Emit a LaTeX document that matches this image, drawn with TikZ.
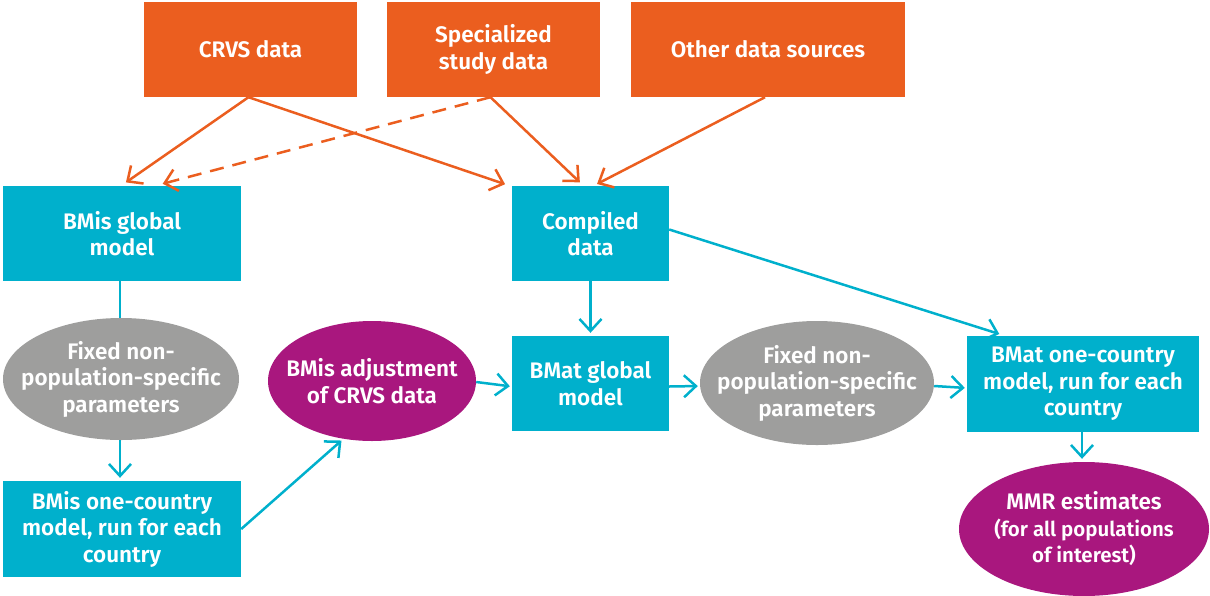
\documentclass[tikz,border=0pt]{standalone}
\usepackage{fontspec}
\setmainfont{Fira Sans}[BoldFont={Fira Sans SemiBold}]
\usetikzlibrary{shapes.geometric,arrows.meta}
\definecolor{corange}{HTML}{EB5E1F}
\definecolor{ccyan}{HTML}{00B0CC}
\definecolor{cgray}{HTML}{9E9E9D}
\definecolor{cpurple}{HTML}{A9177E}
\tikzset{
  txt/.style={text=white,align=center,font=\bfseries\fontsize{22.5}{26.5}\selectfont,inner sep=0pt},
  obox/.style={txt,rectangle,fill=corange},
  cbox/.style={txt,rectangle,fill=ccyan},
  gell/.style={ellipse,fill=cgray,inner sep=0pt},
  pell/.style={ellipse,fill=cpurple,inner sep=0pt},
  tip/.style={-{Straight Barb[length=12pt,width=22pt,line width=2.5pt]}},
  oarr/.style={tip,draw=corange,line width=2.5pt},
  carr/.style={tip,draw=ccyan,line width=2.5pt},
}
\begin{document}
\begin{tikzpicture}[x=1pt,y=-1pt]
\useasboundingbox (0,0) rectangle (1210,595);
% top sources
\node[obox,minimum width=213pt,minimum height=95pt] (crvs) at (250.5,49.5) {CRVS data};
\node[obox,minimum width=213pt,minimum height=95pt] (spec) at (493.5,49.5) {Specialized\\study data};
\node[obox,minimum width=274pt,minimum height=95pt] (other) at (768,49.5) {Other data sources};
% second row
\node[cbox,minimum width=238pt,minimum height=95pt] (bmisg) at (122,233.5) {BMis global\\model};
\node[cbox,minimum width=157pt,minimum height=95pt] (comp) at (590.5,233.5) {Compiled\\data};
% middle row
\node[gell,minimum width=236pt,minimum height=122pt,label={[txt]center:{Fixed non-\\population-specific\\parameters}}] (fix1) at (121,379) {};
\node[pell,minimum width=208pt,minimum height=120pt,label={[txt]center:{BMis adjustment\\of CRVS data}}] (adj) at (372,381) {};
\node[cbox,minimum width=157pt,minimum height=95pt] (bmatg) at (590.5,383.5) {BMat global\\model};
\node[gell,minimum width=234pt,minimum height=124pt,label={[txt]center:{Fixed non-\\population-specific\\parameters}}] (fix2) at (817,383) {};
\node[cbox,minimum width=232pt,minimum height=96pt] (bmat1) at (1083,384) {BMat one-country\\model, run for each\\country};
% bottom
\node[cbox,minimum width=238pt,minimum height=96pt] (bmis1) at (122,529) {BMis one-country\\model, run for each\\country};
\node[pell,minimum width=250pt,minimum height=134pt,label={[txt]center:{MMR estimates\\{\fontsize{20.5}{26.7}\selectfont(for all populations}\\{\fontsize{20.5}{26.7}\selectfont of interest)}}}] (mmr) at (1084,529) {};
% orange connectors
\draw[oarr,shorten >=6pt] ([xshift=-2pt]crvs.south) -- ([xshift=-1pt]bmisg.north);
\draw[oarr,shorten >=5pt] ([xshift=-2pt]crvs.south) -- ([xshift=-2pt]comp.north west);
\draw[oarr,dashed,dash pattern=on 14pt off 9pt,shorten >=8pt] ([xshift=-3pt]spec.south) -- ([xshift=33pt]bmisg.north);
\draw[oarr,shorten >=5pt] ([xshift=-3pt]spec.south) -- ([xshift=-7pt]comp.north);
\draw[oarr,shorten >=4pt] ([xshift=-3pt]other.south) -- ([xshift=3pt]comp.north);
% cyan connectors
\draw[draw=ccyan,line width=2.5pt] ([xshift=-2pt]bmisg.south) -- ([xshift=-1pt]fix1.north);
\draw[carr,shorten >=3pt] ([xshift=-1pt]fix1.south) -- ([xshift=-2pt]bmis1.north);
\draw[carr,shorten >=2pt] (bmis1.east) -- ([xshift=-29pt,yshift=2pt]adj.south);
\draw[carr,shorten >=2pt] ([yshift=-1pt]adj.east) -- ([yshift=-3pt]bmatg.west);
\draw[carr,shorten >=3pt] (comp.south) -- (bmatg.north);
\draw[carr,shorten >=2pt] ([yshift=-3pt]bmatg.east) -- ([yshift=-3pt]fix2.west);
\draw[carr,shorten >=2pt] ([yshift=-3pt]fix2.east) -- ([yshift=-4pt]bmat1.west);
\draw[carr,shorten >=6pt] ([yshift=4pt]comp.east) -- ([xshift=-78pt]bmat1.north);
\draw[carr,shorten >=3pt] ([xshift=-1pt]bmat1.south) -- ([xshift=-2pt]mmr.north);
\end{tikzpicture}
\end{document}
